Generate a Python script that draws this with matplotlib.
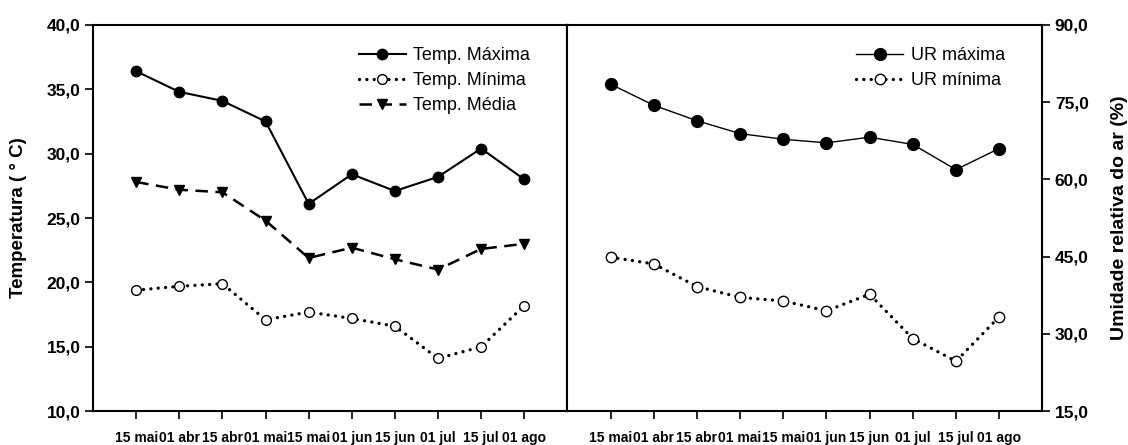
import numpy as np
import matplotlib.pyplot as plt

plt.rcParams['font.family'] = ['Liberation Sans', 'DejaVu Sans']

# rotulos do eixo x (como no grafico original)
xlabels = ['15 mai', '01 abr', '15 abr', '01 mai', '15 mai', '01 jun', '15 jun', '01 jul', '15 jul', '01 ago']
# temperaturas (C)
temp_max = [36.4, 34.8, 34.1, 32.5, 26.1, 28.4, 27.1, 28.2, 30.4, 28.0]
temp_min = [19.4, 19.7, 19.9, 17.1, 17.7, 17.2, 16.6, 14.1, 15.0, 18.2]
temp_med = [27.8, 27.2, 27.0, 24.8, 21.9, 22.7, 21.8, 21.0, 22.6, 23.0]
# umidade relativa (%)
ur_max = [78.5, 74.4, 71.4, 68.9, 67.8, 67.1, 68.2, 66.8, 61.9, 66.0]
ur_min = [44.9, 43.6, 39.2, 37.1, 36.4, 34.5, 37.7, 29.1, 24.7, 33.3]

x = np.arange(1, len(temp_max) + 1)

fig = plt.figure(figsize=(11.28, 4.45), dpi=100)
ax1 = fig.add_axes([0.0825, 0.076, 0.4205, 0.868])
ax2 = fig.add_axes([0.503, 0.076, 0.421, 0.868])

dot = dict(linestyle=(0, (0.01, 2.2)), linewidth=2.4, dash_capstyle='round')

ax1.plot(x, temp_max, '-', color='black', lw=1.5, marker='o', ms=7.5, mfc='black', label='Temp. Máxima')
ax1.plot(x, temp_min, color='black', marker='o', ms=7, mfc='white', mew=1.0, label='Temp. Mínima', **dot)
ax1.plot(x, temp_med, color='black', lw=1.8, dashes=(5, 3), marker='v', ms=7.5, mfc='black', label='Temp. Média')

ax2.plot(x, ur_max, '-', color='black', lw=1.0, marker='o', ms=8.5, mfc='black', label='UR máxima')
ax2.plot(x, ur_min, color='black', marker='o', ms=7.5, mfc='white', mew=1.0, label='UR mínima', **dot)

ax1.set_ylim(10, 40)
ax1.set_yticks(np.arange(10, 41, 5))
ax1.set_yticklabels([('%.1f' % v).replace('.', ',') for v in np.arange(10, 41, 5)])
ax2.set_ylim(15, 90)
ax2.set_yticks(np.arange(15, 91, 15))
ax2.set_yticklabels([('%.1f' % v).replace('.', ',') for v in np.arange(15, 91, 15)])
ax2.yaxis.tick_right()
ax2.yaxis.set_label_position('right')

for ax in (ax1, ax2):
    ax.set_xlim(0, 11)
    ax.set_xticks(x)
    ax.set_xticklabels(xlabels)
    for s in ax.spines.values():
        s.set_linewidth(1.5)
    ax.tick_params(axis='y', direction='out', length=6, width=1.2, pad=3, labelsize=12.5)
    ax.tick_params(axis='x', direction='out', length=6, width=1.2, pad=8, labelsize=10)
    for lab in ax.get_xticklabels() + ax.get_yticklabels():
        lab.set_fontweight('bold')

ax1.set_ylabel('Temperatura ( ° C)', fontsize=13.5, fontweight='bold', labelpad=14)
ax2.set_ylabel('Umidade relativa do ar (%)', fontsize=14, fontweight='bold', labelpad=16)

ax1.legend(loc='upper right', frameon=False, fontsize=13, handlelength=2.6, handletextpad=0.4,
           labelspacing=0.45, bbox_to_anchor=(0.955, 0.985))
ax2.legend(loc='upper right', frameon=False, fontsize=13, handlelength=2.6, handletextpad=0.4,
           labelspacing=0.45, bbox_to_anchor=(0.955, 0.985))

plt.savefig('out.png', dpi=100)
